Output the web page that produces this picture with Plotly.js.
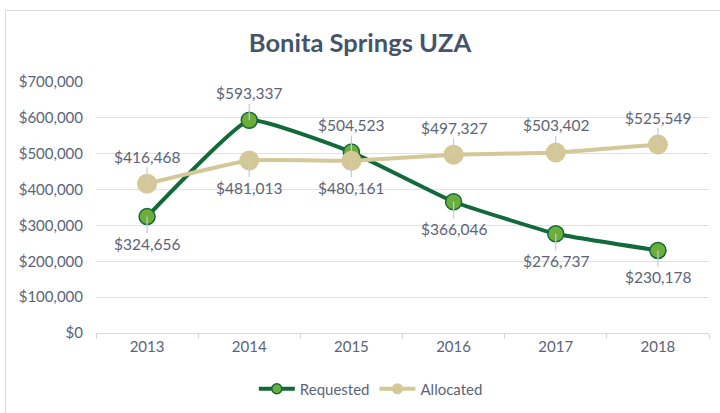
<!DOCTYPE html>
<html>
<head>
<meta charset="utf-8">
<script src="https://cdn.plot.ly/plotly-3.0.1.min.js"></script>
<style>
html,body{margin:0;padding:0;background:#fff;overflow:hidden;}
#frame{position:absolute;left:5px;top:10px;width:730px;height:430px;border:1px solid #d9d9d9;box-sizing:border-box;}
#chart{position:absolute;left:0;top:0;width:720px;height:413px;}
</style>
</head>
<body>
<div id="frame"></div>
<div id="chart"></div>
<script>
const years = ['2013','2014','2015','2016','2017','2018'];
const requested = [324656, 593337, 504523, 366046, 276737, 230178];
const allocated = [416468, 481013, 480161, 497327, 503402, 525549];
// label placement: -1 above, +1 below
const requestedLabelPos = [1, -1, -1, 1, 1, 1];
const allocatedLabelPos = [-1, 1, 1, -1, -1, -1];

const textColor = '#5b6477';
const fontFam = 'Lato, "Open Sans", sans-serif';
const fmt = v => '$' + v.toLocaleString('en-US');

const reqLine = {color: '#12693a', width: 4, shape: 'spline', smoothing: 0.35};
const allocLine = {color: '#d5c898', width: 4, shape: 'spline', smoothing: 0.35};

const traces = [
  {
    x: years, y: requested, name: 'Requested', type: 'scatter', mode: 'lines+markers',
    line: reqLine, showlegend: false, legendgroup: 'r',
    marker: {color: '#6cae3c', size: 16, line: {color: '#12693a', width: 1.5}}
  },
  {
    x: years, y: allocated, name: 'Allocated', type: 'scatter', mode: 'lines+markers',
    line: allocLine, showlegend: false, legendgroup: 'a',
    marker: {color: '#d5c898', size: 20}
  },
  // legend entries only (smaller symbols, as in the reference legend)
  {
    x: [null], y: [null], name: 'Requested', type: 'scatter', mode: 'lines+markers',
    line: reqLine, legendgroup: 'r', hoverinfo: 'skip',
    marker: {color: '#6cae3c', size: 10, line: {color: '#12693a', width: 1.5}}
  },
  {
    x: [null], y: [null], name: 'Allocated', type: 'scatter', mode: 'lines+markers',
    line: allocLine, legendgroup: 'a', hoverinfo: 'skip',
    marker: {color: '#d5c898', size: 11}
  }
];

const annotations = [];
function addLabels(vals, pos) {
  vals.forEach((v, i) => {
    annotations.push({
      x: i, y: v, xref: 'x', yref: 'y',   // category index of years[i]
      text: fmt(v), showarrow: true, arrowhead: 0, arrowwidth: 1.2,
      arrowcolor: '#c3cad8', ax: 0, ay: pos[i] * 27, standoff: 0,
      font: {family: fontFam, size: 15.5, color: textColor}
    });
  });
}
addLabels(requested, requestedLabelPos);
addLabels(allocated, allocatedLabelPos);

const layout = {
  width: 720, height: 413,
  paper_bgcolor: 'rgba(0,0,0,0)', plot_bgcolor: 'rgba(0,0,0,0)',
  margin: {l: 96, r: 11, t: 82, b: 80},
  title: {
    text: '<b>Bonita Springs UZA</b>',
    font: {family: fontFam, size: 25.5, color: '#44546a'},
    x: 0.5, xref: 'container', y: 1 - 43/413, yref: 'container', yanchor: 'middle'
  },
  font: {family: fontFam, color: textColor},
  xaxis: {
    type: 'category', range: [-0.5, 5.5], showgrid: false, showline: true, linecolor: '#d4d8e1', linewidth: 1,
    ticks: 'outside', tickson: 'boundaries', ticklen: 5, tickcolor: '#d4d8e1',
    tickfont: {size: 15, color: textColor}, zeroline: false, fixedrange: true
  },
  yaxis: {
    range: [0, 700000], dtick: 100000, tickformat: '$,.0f',
    showgrid: true, gridcolor: '#dde1e9', gridwidth: 1, zeroline: false,
    showline: false, ticks: '', ticklabelstandoff: 12,
    tickfont: {size: 15, color: textColor}, fixedrange: true
  },
  showlegend: true,
  legend: {
    orientation: 'h', xref: 'container', yref: 'container',
    x: 0.515, xanchor: 'center', y: 1 - 389/413, yanchor: 'middle',
    font: {size: 15, color: textColor}, itemwidth: 36, traceorder: 'normal'
  },
  annotations: annotations
};

Plotly.newPlot('chart', traces, layout, {displayModeBar: false, staticPlot: true});
</script>
</body>
</html>
